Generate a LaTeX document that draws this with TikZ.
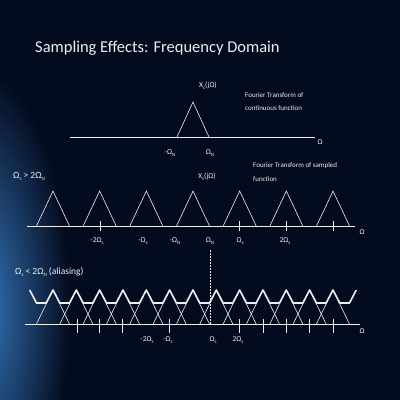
\documentclass[tikz,border=0pt]{standalone}
\usepackage{fontspec}
\setmainfont{Carlito}
\definecolor{slidebg}{RGB}{3,11,30}
\definecolor{glow}{RGB}{55,120,190}
\definecolor{ink}{RGB}{238,238,238}
\newcommand{\sbs}[1]{\raisebox{-.45ex}{\fontsize{5}{5}\selectfont #1}}
\newcommand{\Om}[1]{Ω\sbs{#1}}

\begin{document}
\begin{tikzpicture}[x=1pt, y=-1pt,
  spec/.style={ink, line width=.6pt},
  sumline/.style={ink, line width=1.6pt, line join=round},
  axis/.style={ink, line width=.9pt},
  tick/.style={ink, line width=.7pt},
  lbl/.style={ink, font=\fontsize{7.5}{8}\selectfont, inner sep=0pt},
  note/.style={ink, font=\fontsize{7}{13.5}\selectfont, align=left, inner sep=0pt, anchor=west},
  cond/.style={ink, font=\fontsize{9.5}{10}\selectfont, inner sep=0pt, anchor=west}]
  \fill[slidebg] (0,0) rectangle (400,400);
  \begin{scope}
    \clip (0,0) rectangle (400,400);
    \shade[inner color=glow, outer color=slidebg] (-20,310) ellipse (90 and 240);
  \end{scope}
  \node[ink, font=\fontsize{16.5}{19}\selectfont, anchor=west, inner sep=0pt] (title) at (35,48) {Sampling Effects: Frequency Domain};

  % continuous spectrum
  \draw[axis] (70,137) -- (315,137);
  \draw[spec] (177,137) -- (193,102) -- (209,137);
  \node[lbl] (xc) at (208,86) {X\sbs{c}(jΩ)};
  \node[lbl] (mN) at (170,153) {-\Om{N}};
  \node[lbl] (pN) at (210,153) {\Om{N}};
  \node[lbl] (om1) at (320,142) {Ω};
  \node[note] (n1) at (245,101.5) {Fourier Transform of\\continuous function};

  % sampled, no aliasing
  \node[cond] (c1) at (13,176) {\Om{s} > 2\Om{N}};
  \draw[axis] (27,226) -- (355,226);
  \foreach \k in {0,...,6}
    \draw[spec] ({53+46.67*\k-16.5},226) -- ++(16.5,-35) -- ++(16.5,35);
  \foreach \t in {100,239,286,333}
    \draw[tick] (\t,221) -- (\t,231);
  \node[lbl] (xs) at (207,177) {X\sbs{s}(jΩ)};
  \node[note] (n2) at (253,172) {Fourier Transform of sampled\\function};
  \node[lbl] at (97,241) {-2\Om{s}};
  \node[lbl] at (143,241) {-\Om{s}};
  \node[lbl] at (175,241) {-\Om{N}};
  \node[lbl] at (210,241) {\Om{N}};
  \node[lbl] at (240,241) {\Om{s}};
  \node[lbl] at (285,241) {2\Om{s}};
  \node[lbl] (om2) at (362,232) {Ω};

  % sampled, aliasing
  \node[cond] (c2) at (15,272) {\Om{s} < 2\Om{N} (aliasing)};
  \draw[ink, line width=.5pt, dash pattern=on 1.5pt off 1.5pt] (210,250) -- (210,324);
  \draw[axis] (25,324) -- (360,324);
  \foreach \k in {0,...,12}
    \draw[spec] ({53+23.33*\k-16.5},324) -- ++(16.5,-34) -- ++(16.5,34);
  \draw[sumline] (29.67,290) \foreach \k in {0,...,13} {
    -- ({29.67+23.33*\k+6.84},303) -- ({53+23.33*\k-6.84},303) -- ({53+23.33*\k},290)};
  \foreach \t in {77,99,122,169,239,263,286,309,333}
    \draw[tick] (\t,319) -- (\t,333);
  \node[lbl] at (147,340) {-2\Om{s}};
  \node[lbl] at (168,340) {-\Om{s}};
  \node[lbl] at (213,340) {\Om{s}};
  \node[lbl] at (238,340) {2\Om{s}};
  \node[lbl] (om3) at (362,331) {Ω};
\end{tikzpicture}
\end{document}
